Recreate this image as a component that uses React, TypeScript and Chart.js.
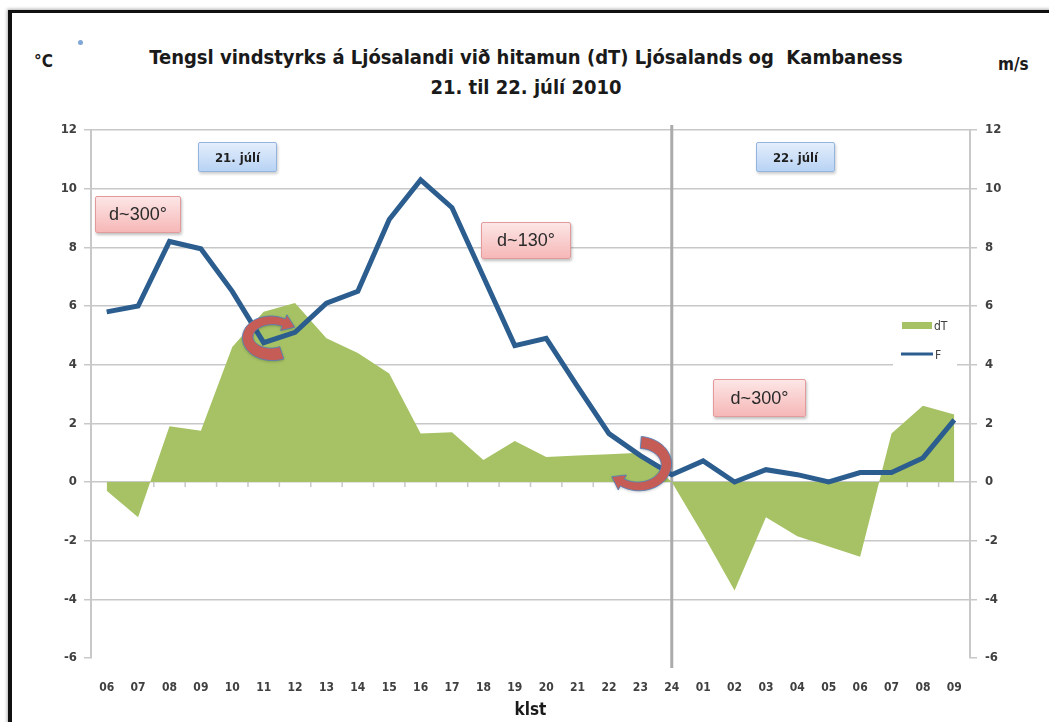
import React, { useEffect, useRef } from 'react';
import { Chart, registerables } from 'chart.js';
Chart.register(...registerables);

// ---------- data ----------
const hours = ['06','07','08','09','10','11','12','13','14','15','16','17','18','19','20','21','22','23','24','01','02','03','04','05','06','07','08','09'];
const dTValues = [-0.3,-1.2,1.9,1.75,4.6,5.8,6.1,4.9,4.4,3.7,1.65,1.7,0.75,1.4,0.85,0.9,0.95,1.0,0.0,-1.8,-3.7,-1.2,-1.85,-2.2,-2.55,1.65,2.6,2.3];
const windValues = [5.8,6.0,8.2,7.95,6.5,4.75,5.1,6.1,6.5,8.95,10.3,9.35,7.0,4.65,4.9,3.25,1.65,0.9,0.25,0.72,0.0,0.42,0.25,0.0,0.32,0.32,0.82,2.12];
const axisMin = -6;
const axisMax = 12;
const axisStep = 2;
const dayDividerIndex = 18;
const seriesLabels = ['dT', 'F'];

const GRID = '#c8c8c8';
const TEXT = '#404040';
const GREEN = '#a6c264';
const BLUE = '#2c5d8f';
const FONT = "'Liberation Sans Narrow', 'DejaVu Sans Condensed', 'Liberation Sans', sans-serif";

function curvedArrow(ctx: CanvasRenderingContext2D, cx: number, cy: number, rx: number, ry: number,
  a0: number, a1: number, w0: number, w1: number, headLen: number, headW: number) {
  const N = 40;
  const outer: number[][] = [];
  const inner: number[][] = [];
  const s = Math.sign(a1 - a0);
  const tn = (a: number) => {
    let dx = -rx * Math.sin(a) * s, dy = ry * Math.cos(a) * s;
    const l = Math.hypot(dx, dy);
    return [dx / l, dy / l];
  };
  for (let i = 0; i <= N; i++) {
    const t = i / N;
    const a = a0 + (a1 - a0) * t;
    const px = cx + rx * Math.cos(a), py = cy + ry * Math.sin(a);
    const [tx, ty] = tn(a);
    const nx = -ty, ny = tx;
    const w = w0 + (w1 - w0) * t;
    outer.push([px + nx * w / 2, py + ny * w / 2]);
    inner.push([px - nx * w / 2, py - ny * w / 2]);
  }
  const pe = [cx + rx * Math.cos(a1), cy + ry * Math.sin(a1)];
  const [tx, ty] = tn(a1);
  const nx = -ty, ny = tx;
  ctx.save();
  ctx.beginPath();
  ctx.moveTo(outer[0][0], outer[0][1]);
  for (let i = 1; i <= N; i++) ctx.lineTo(outer[i][0], outer[i][1]);
  ctx.lineTo(pe[0] + nx * headW / 2, pe[1] + ny * headW / 2);
  ctx.lineTo(pe[0] + tx * headLen, pe[1] + ty * headLen);
  ctx.lineTo(pe[0] - nx * headW / 2, pe[1] - ny * headW / 2);
  for (let i = N; i >= 0; i--) ctx.lineTo(inner[i][0], inner[i][1]);
  ctx.closePath();
  ctx.shadowColor = 'rgba(0,0,0,0.25)';
  ctx.shadowBlur = 3;
  ctx.shadowOffsetY = 1;
  ctx.fillStyle = '#c65c56';
  ctx.fill();
  ctx.shadowColor = 'transparent';
  ctx.strokeStyle = 'rgba(79,129,189,0.85)';
  ctx.lineWidth = 1;
  ctx.stroke();
  ctx.restore();
}

const overlayPlugin = {
  id: 'overlay',
  beforeDatasetsDraw(chart: any) {
    const { ctx, chartArea, scales } = chart;
    const x = scales.x, y = scales.yL;
    const y0 = y.getPixelForValue(0);
    const step = x.getPixelForValue(1) - x.getPixelForValue(0);
    ctx.save();
    ctx.strokeStyle = GRID;
    ctx.lineWidth = 1.5;
    ctx.beginPath();
    for (let i = 0; i <= hours.length; i++) {
      const px = x.getPixelForValue(0) - step / 2 + i * step;
      ctx.moveTo(px, y0);
      ctx.lineTo(px, y0 + 5);
    }
    ctx.stroke();
    const xd = x.getPixelForValue(dayDividerIndex);
    ctx.strokeStyle = '#ababab';
    ctx.lineWidth = 3;
    ctx.beginPath();
    ctx.moveTo(xd, chartArea.top - 5);
    ctx.lineTo(xd, chartArea.bottom + 10);
    ctx.stroke();
    ctx.restore();
  },
  afterDatasetsDraw(chart: any) {
    const { ctx, scales } = chart;
    const x = scales.x, y = scales.yR;
    const d = Math.PI / 180;
    curvedArrow(ctx, x.getPixelForValue(5) + 8, y.getPixelForValue(5) + 2, 24, 17, 65 * d, 300 * d, 13, 8, 12, 17);
    curvedArrow(ctx, x.getPixelForValue(17) - 2, y.getPixelForValue(0.6), 28, 22, -85 * d, 125 * d, 12, 8, 12, 17);
  },
  afterDraw(chart: any) {
    const { ctx, chartArea } = chart;
    const r = chartArea.right;
    ctx.save();
    ctx.fillStyle = '#ffffff';
    ctx.fillRect(r - 77, 310, 64, 60);
    ctx.fillStyle = GREEN;
    ctx.fillRect(r - 68, 322, 30, 7);
    ctx.strokeStyle = BLUE;
    ctx.lineWidth = 3;
    ctx.beginPath();
    ctx.moveTo(r - 69, 354);
    ctx.lineTo(r - 37, 354);
    ctx.stroke();
    ctx.fillStyle = TEXT;
    ctx.font = `12px ${FONT}`;
    ctx.textBaseline = 'middle';
    ctx.fillText(seriesLabels[0], r - 36, 327);
    ctx.fillText(seriesLabels[1], r - 35, 356);
    ctx.restore();
  },
};

const pinkBox: React.CSSProperties = {
  position: 'absolute',
  background: 'linear-gradient(#fde6e6, #f6b7b7)',
  border: '1px solid #e39a9a',
  borderRadius: 2,
  boxShadow: '1px 2px 3px rgba(0,0,0,0.25)',
  color: '#2a2a2a',
  fontFamily: "'Liberation Sans', sans-serif",
  fontSize: 18,
  display: 'flex',
  alignItems: 'center',
  justifyContent: 'center',
  boxSizing: 'border-box',
};
const blueBox: React.CSSProperties = {
  position: 'absolute',
  background: 'linear-gradient(#e4eefc, #b8d3f4)',
  border: '1px solid #92b4df',
  borderRadius: 2,
  boxShadow: '1px 2px 3px rgba(0,0,0,0.2)',
  color: '#1f1f1f',
  fontFamily: FONT,
  fontWeight: 'bold',
  fontSize: 13,
  display: 'flex',
  alignItems: 'center',
  justifyContent: 'center',
  boxSizing: 'border-box',
};

export default function App() {
  const ref = useRef<HTMLCanvasElement>(null);
  useEffect(() => {
    document.body.style.margin = '0';
    const canvas = ref.current!;
    const gridColor = (c: any) => (c.tick && c.tick.value === axisMin ? 'rgba(0,0,0,0)' : GRID);
    const chart = new Chart(canvas, {
      type: 'line',
      data: {
        labels: hours,
        datasets: [
          {
            label: seriesLabels[1],
            data: windValues,
            yAxisID: 'yR',
            borderColor: BLUE,
            borderWidth: 5,
            pointRadius: 0,
            tension: 0,
            fill: false,
            order: 1,
            borderJoinStyle: 'miter',
          },
          {
            label: seriesLabels[0],
            data: dTValues,
            yAxisID: 'yL',
            borderWidth: 0,
            borderColor: GREEN,
            backgroundColor: GREEN,
            pointRadius: 0,
            tension: 0,
            fill: 'origin',
            order: 2,
          },
        ],
      },
      options: {
        responsive: false,
        animation: false,
        devicePixelRatio: 1,
        layout: { padding: { top: 130, left: 0, right: 0, bottom: 0 } },
        plugins: { legend: { display: false }, tooltip: { enabled: false }, title: { display: false } },
        scales: {
          x: {
            type: 'category',
            offset: true,
            grid: { display: false },
            border: { display: false },
            ticks: { color: TEXT, font: { family: FONT, size: 12, weight: 'bold' }, padding: 15, maxRotation: 0, autoSkip: false },
            title: { display: true, text: 'klst', color: '#1a1a1a', font: { family: FONT, size: 17, weight: 'bold' }, padding: { top: 0, bottom: 1 } },
            afterFit: (s: any) => { s.height = 64; },
          },
          yL: {
            position: 'left',
            min: axisMin,
            max: axisMax,
            ticks: { stepSize: axisStep, color: TEXT, font: { family: FONT, size: 13, weight: 'bold' }, padding: 7 },
            grid: { color: gridColor, tickColor: GRID, lineWidth: 1.5, tickLength: 7 },
            border: { display: true, color: GRID, width: 2 },
            afterFit: (s: any) => { s.width = 91; },
          },
          yR: {
            position: 'right',
            min: axisMin,
            max: axisMax,
            ticks: { stepSize: axisStep, color: TEXT, font: { family: FONT, size: 13, weight: 'bold' }, padding: 8 },
            grid: { drawOnChartArea: false, color: GRID, tickColor: GRID, lineWidth: 1.5, tickLength: 7 },
            border: { display: true, color: GRID, width: 2 },
            afterFit: (s: any) => { s.width = 79; },
          },
        },
      },
      plugins: [overlayPlugin],
    } as any);
    return () => chart.destroy();
  }, []);

  return (
    <div style={{ position: 'relative', width: 1049, height: 722, overflow: 'hidden', background: '#fff' }}>
      <div style={{ position: 'absolute', left: 8, top: 10, width: 1200, height: 900, borderTop: '3px solid #111', borderLeft: '4px solid #111', boxShadow: '-1px -1px 3px rgba(0,0,0,0.3)' }} />
      <div style={{ position: 'absolute', left: 78, top: 40, width: 5, height: 5, borderRadius: 3, background: '#7fa6d6' }} />
      <div style={{ position: 'absolute', left: 0, top: 42, width: 1052, textAlign: 'center', fontFamily: FONT, fontWeight: 'bold', fontSize: 20, lineHeight: '30px', color: '#1a1a1a' }}>
        <div>Tengsl vindstyrks á Ljósalandi við hitamun (dT) Ljósalands og&nbsp; Kambaness</div>
        <div>21. til 22. júlí 2010</div>
      </div>
      <div style={{ position: 'absolute', left: 34, top: 51, fontFamily: FONT, fontWeight: 'bold', fontSize: 17, color: '#1a1a1a' }}>°C</div>
      <div style={{ position: 'absolute', left: 998, top: 54, fontFamily: FONT, fontWeight: 'bold', fontSize: 17, color: '#1a1a1a' }}>m/s</div>
      <canvas ref={ref} width={1049} height={722} style={{ position: 'absolute', left: 0, top: 0, width: 1049, height: 722 }} />
      <div style={{ ...blueBox, left: 198, top: 142, width: 79, height: 30 }}>21. júlí</div>
      <div style={{ ...blueBox, left: 756, top: 142, width: 79, height: 30 }}>22. júlí</div>
      <div style={{ ...pinkBox, left: 95, top: 196, width: 86, height: 37 }}>d~300°</div>
      <div style={{ ...pinkBox, left: 481, top: 222, width: 90, height: 37 }}>d~130°</div>
      <div style={{ ...pinkBox, left: 713, top: 379, width: 93, height: 38 }}>d~300°</div>
    </div>
  );
}
